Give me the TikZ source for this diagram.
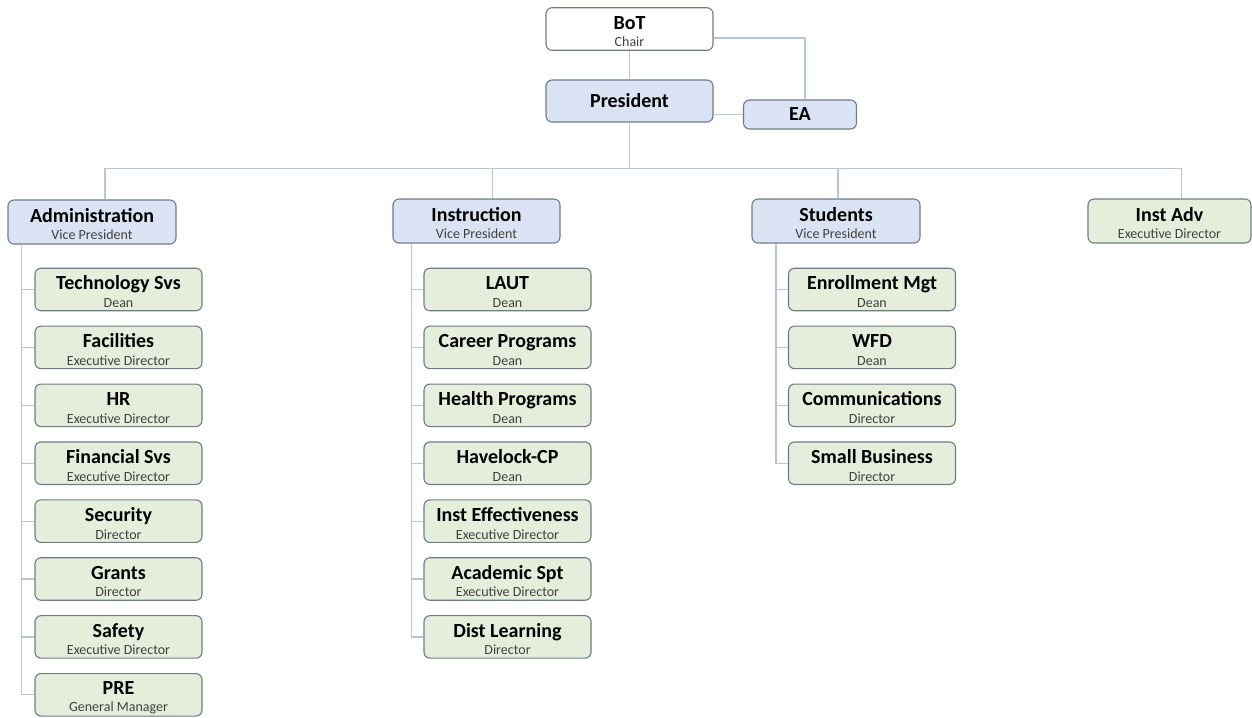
\documentclass[tikz,border=0pt]{standalone}
\usepackage{fontspec}
\setmainfont{Carlito}
\usepackage{tikz}
\usetikzlibrary{calc,positioning}
\definecolor{edgegray}{HTML}{6E7B89}
\definecolor{linkblue}{HTML}{B3C6DA}
\definecolor{vpblue}{HTML}{DAE3F3}
\definecolor{unitgreen}{HTML}{E5EEDB}
\definecolor{subgray}{HTML}{404040}
\newcommand{\unit}[2]{\rule{0pt}{18.5pt}{\fontsize{20}{20}\selectfont\bfseries #1}\\{\color{subgray}#2}}

\begin{document}
\begin{tikzpicture}[
  x=1pt, y=-1pt,
  node distance=14.3pt,
  board/.style={rectangle, rounded corners=6pt, draw=edgegray, fill=white,
    minimum width=167pt, minimum height=42.5pt, align=center, line width=1.1pt,
    inner xsep=2pt, inner ysep=0pt, font=\fontsize{14}{17.5}\selectfont},
  vp/.style={board, fill=vpblue, minimum height=44pt},
  unitbox/.style={board, fill=unitgreen},
  link/.style={draw=linkblue, line width=1.2pt}
]
  \useasboundingbox (0,0) rectangle (1252,717);
  % top
  \node[board] (bot) at (629.5,29) {\unit{BoT}{Chair}};
  \node[vp, minimum height=42pt] (pres) at (629.5,101) {{\fontsize{20}{20}\selectfont\bfseries President}};
  \node[vp, minimum width=113pt, minimum height=29pt] (ea) at (800,114.5) {{\fontsize{20}{20}\selectfont\bfseries EA}};
  % vice presidents
  \node[vp, minimum width=168pt] (admin) at (92,222) {\unit{Administration}{Vice President}};
  \node[vp] (instr) at (476.5,221) {\unit{Instruction}{Vice President}};
  \node[vp, minimum width=168pt] (stud) at (836,221) {\unit{Students}{Vice President}};
  \node[unitbox, minimum width=163pt, minimum height=44pt] (instadv) at (1169.5,221) {\unit{Inst Adv}{Executive Director}};
  % administration
  \node[unitbox] (tech) at (118.5,289.5) {\unit{Technology Svs}{Dean}};
  \node[unitbox, below=of tech] (facil) {\unit{Facilities}{Executive Director}};
  \node[unitbox, below=of facil] (hr) {\unit{HR}{Executive Director}};
  \node[unitbox, below=of hr] (finsvs) {\unit{Financial Svs}{Executive Director}};
  \node[unitbox, below=of finsvs] (secur) {\unit{Security}{Director}};
  \node[unitbox, below=of secur] (grants) {\unit{Grants}{Director}};
  \node[unitbox, below=of grants] (safety) {\unit{Safety}{Executive Director}};
  \node[unitbox, below=of safety] (pre) {\unit{PRE}{General Manager}};
  % instruction
  \node[unitbox] (laut) at (507.5,289.5) {\unit{LAUT}{Dean}};
  \node[unitbox, below=of laut] (career) {\unit{Career Programs}{Dean}};
  \node[unitbox, below=of career] (health) {\unit{Health Programs}{Dean}};
  \node[unitbox, below=of health] (havelock) {\unit{Havelock-CP}{Dean}};
  \node[unitbox, below=of havelock] (insteff) {\unit{Inst Effectiveness}{Executive Director}};
  \node[unitbox, below=of insteff] (acadspt) {\unit{Academic Spt}{Executive Director}};
  \node[unitbox, below=of acadspt] (distlrn) {\unit{Dist Learning}{Director}};
  % students
  \node[unitbox] (enroll) at (872,289.5) {\unit{Enrollment Mgt}{Dean}};
  \node[unitbox, below=of enroll] (wfd) {\unit{WFD}{Dean}};
  \node[unitbox, below=of wfd] (comms) {\unit{Communications}{Director}};
  \node[unitbox, below=of comms] (smallbiz) {\unit{Small Business}{Director}};

  % connectors
  \draw[link] (bot) -- (pres);
  \draw[link] ([yshift=-9pt]bot.east) -| ([xshift=5pt]ea.north);
  \draw[link] (pres.east |- ea) -- (ea.west);
  \coordinate (bus) at ($(pres.south)+(0,46)$);
  \draw[link] (pres) -- (bus);
  \foreach \vp/\dx in {admin/13,instr/16,stud/2,instadv/12}
    \draw[link] (bus) -| ([xshift=\dx pt]\vp.north);
  \path ($(tech.west)+(-13,0)$) coordinate (admrail);
  \path ($(laut.west)+(-12,0)$) coordinate (insrail);
  \path ($(enroll.west)+(-12,0)$) coordinate (sturail);
  \draw[link] (admrail |- admin.south) |- (pre.west);
  \foreach \c in {tech,facil,hr,finsvs,secur,grants,safety}
    \draw[link] (admrail |- \c.west) -- (\c.west);
  \draw[link] (insrail |- instr.south) |- (distlrn.west);
  \foreach \c in {laut,career,health,havelock,insteff,acadspt}
    \draw[link] (insrail |- \c.west) -- (\c.west);
  \draw[link] (sturail |- stud.south) |- (smallbiz.west);
  \foreach \c in {enroll,wfd,comms}
    \draw[link] (sturail |- \c.west) -- (\c.west);
\end{tikzpicture}
\end{document}
